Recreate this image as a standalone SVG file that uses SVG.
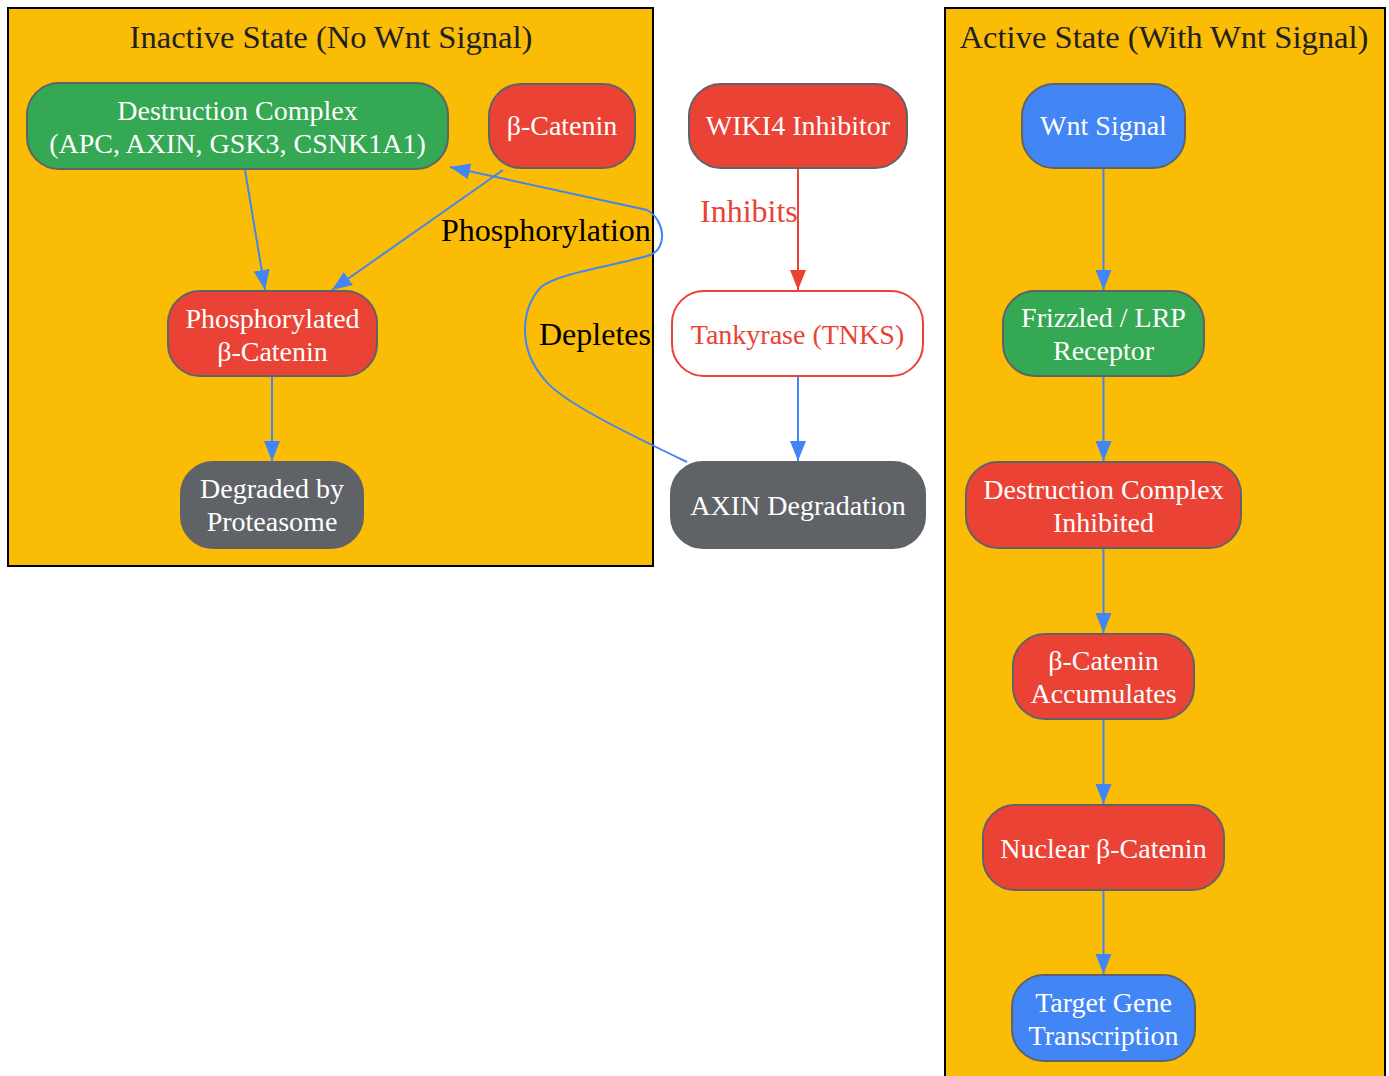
<svg xmlns="http://www.w3.org/2000/svg" width="1389" height="1076" viewBox="0 0 1389 1076">
<style>
text{font-family:"Liberation Serif","Times New Roman",serif;}
.cl{fill:#FBBC05;stroke:#000;stroke-width:2;}
.ct{font-size:32.6px;fill:#202124;text-anchor:middle;}
.n{stroke:#5F6368;stroke-width:2;}
.nt{font-size:28px;fill:#fff;text-anchor:middle;}
.red{fill:#EA4335;}
.green{fill:#34A853;}
.blue{fill:#4285F4;}
.gray{fill:#5F6368;}
.e{fill:none;stroke:#4285F4;stroke-width:2;}
.el{font-size:32px;fill:#000;}
</style>
<defs>
<marker id="ab" viewBox="0 0 20 16" refX="20" refY="8" markerWidth="20" markerHeight="16" markerUnits="userSpaceOnUse" orient="auto"><path d="M0,0 L20,8 L0,16 Z" fill="#4285F4"/></marker>
<marker id="ar" viewBox="0 0 20 16" refX="20" refY="8" markerWidth="20" markerHeight="16" markerUnits="userSpaceOnUse" orient="auto"><path d="M0,0 L20,8 L0,16 Z" fill="#EA4335"/></marker>
</defs>
<rect width="1389" height="1076" fill="#fff"/>
<g id="cluster_inactive">
<rect class="cl" x="8" y="8" width="645" height="558"/>
<text class="ct" x="331" y="48">Inactive State (No Wnt Signal)</text>
</g>
<g id="cluster_active">
<rect class="cl" x="945" y="8" width="440" height="1080"/>
<text class="ct" x="1164" y="48">Active State (With Wnt Signal)</text>
</g>
<g id="edges">
<path class="e" d="M245,170 L265,290" marker-end="url(#ab)"/>
<path class="e" d="M503,170 L332,290" marker-end="url(#ab)"/>
<path class="e" d="M272,377 L272,461" marker-end="url(#ab)"/>
<path d="M798,169 L798,290" fill="none" stroke="#EA4335" stroke-width="2" marker-end="url(#ar)"/>
<path class="e" d="M798,377 L798,461" marker-end="url(#ab)"/>
<path class="e" d="M687,462 C620,430 560,400 545,380 C518,350 520,310 541,287 C560,272 620,265 650,255 C668,248 665,220 647,210 L450,167" marker-end="url(#ab)"/>
<path class="e" d="M1103.5,169 L1103.5,290" marker-end="url(#ab)"/>
<path class="e" d="M1103.5,377 L1103.5,461" marker-end="url(#ab)"/>
<path class="e" d="M1103.5,549 L1103.5,633" marker-end="url(#ab)"/>
<path class="e" d="M1103.5,720 L1103.5,804" marker-end="url(#ab)"/>
<path class="e" d="M1103.5,891 L1103.5,974" marker-end="url(#ab)"/>
<text class="el" x="441" y="241">Phosphorylation</text>
<text class="el" x="539" y="345">Depletes</text>
<text class="el" x="700" y="222" style="fill:#EA4335">Inhibits</text>
</g>
<g id="node_dc">
<rect class="n green" x="27" y="83" width="421" height="86" rx="32"/>
<text class="nt" x="237.5" y="120">Destruction Complex</text>
<text class="nt" x="237.5" y="153">(APC, AXIN, GSK3, CSNK1A1)</text>
</g>
<g id="node_bcat">
<rect class="n red" x="489" y="84" width="146" height="84" rx="32"/>
<text class="nt" x="562" y="135">β-Catenin</text>
</g>
<g id="node_phos">
<rect class="n red" x="168" y="291" width="209" height="85" rx="32"/>
<text class="nt" x="272.5" y="328">Phosphorylated</text>
<text class="nt" x="272.5" y="361">β-Catenin</text>
</g>
<g id="node_degraded">
<rect class="n gray" x="181" y="462" width="182" height="86" rx="32"/>
<text class="nt" x="272" y="498">Degraded by</text>
<text class="nt" x="272" y="531">Proteasome</text>
</g>
<g id="node_wiki4">
<rect class="n red" x="689" y="84" width="218" height="84" rx="32"/>
<text class="nt" x="798" y="135">WIKI4 Inhibitor</text>
</g>
<g id="node_tnks">
<rect x="672" y="291" width="251" height="85" rx="32" fill="#fff" stroke="#EA4335" stroke-width="2"/>
<text class="nt" x="797.5" y="344" style="fill:#EA4335">Tankyrase (TNKS)</text>
</g>
<g id="node_axin">
<rect class="n gray" x="671" y="462" width="254" height="86" rx="32"/>
<text class="nt" x="798" y="515">AXIN Degradation</text>
</g>
<g id="node_wnt">
<rect class="n blue" x="1022" y="84" width="163" height="84" rx="32"/>
<text class="nt" x="1103.5" y="135">Wnt Signal</text>
</g>
<g id="node_fzd">
<rect class="n green" x="1003" y="291" width="201" height="85" rx="32"/>
<text class="nt" x="1103.5" y="327">Frizzled / LRP</text>
<text class="nt" x="1103.5" y="360">Receptor</text>
</g>
<g id="node_dci">
<rect class="n red" x="966" y="462" width="275" height="86" rx="32"/>
<text class="nt" x="1103.5" y="499">Destruction Complex</text>
<text class="nt" x="1103.5" y="532">Inhibited</text>
</g>
<g id="node_acc">
<rect class="n red" x="1013" y="634" width="181" height="85" rx="32"/>
<text class="nt" x="1103.5" y="670">β-Catenin</text>
<text class="nt" x="1103.5" y="703">Accumulates</text>
</g>
<g id="node_nuc">
<rect class="n red" x="983" y="805" width="241" height="85" rx="32"/>
<text class="nt" x="1103.5" y="858">Nuclear β-Catenin</text>
</g>
<g id="node_target">
<rect class="n blue" x="1012" y="975" width="183" height="86" rx="32"/>
<text class="nt" x="1103.5" y="1012">Target Gene</text>
<text class="nt" x="1103.5" y="1045">Transcription</text>
</g>
</svg>
